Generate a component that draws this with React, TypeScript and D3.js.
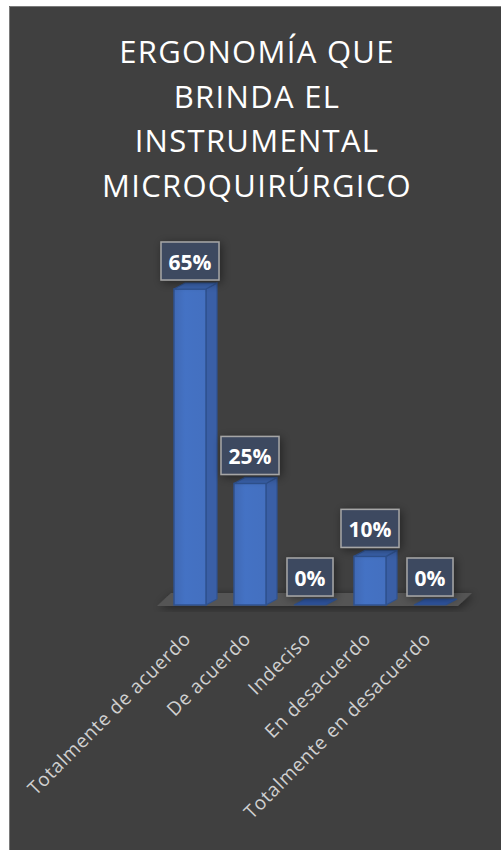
import * as d3 from "d3";
import React from "react";

const categories = [
  "Totalmente de acuerdo",
  "De acuerdo",
  "Indeciso",
  "En desacuerdo",
  "Totalmente en desacuerdo",
];
const values = [65, 25, 0, 10, 0];
const titleLines = ["ERGONOMÍA QUE", "BRINDA EL", "INSTRUMENTAL", "MICROQUIRÚRGICO"];

const W = 501;
const H = 850;
const BASE = 605;
const DX = 11;
const DY = 6;

const App: React.FC = (): React.ReactElement => {
  const x = d3.scaleBand<string>().domain(categories).range([160, 460]).paddingInner(28 / 60).paddingOuter(14 / 60);
  const y = d3.scaleLinear().domain([0, 65]).range([BASE, 289]);
  const bw = x.bandwidth();

  const line = d3.line<[number, number]>();
  const floor: [number, number][] = [
    [157, 606],
    [458, 606],
    [472, 593],
    [171, 593],
  ];

  return (
    <svg width={W} height={H} style={{ position: "absolute", left: 0, top: 0 }} fontFamily="'Open Sans', sans-serif">
      <defs>
        <filter id="sh" x="-40%" y="-40%" width="180%" height="180%">
          <feDropShadow dx="2" dy="2" stdDeviation="5" floodColor="#000" floodOpacity="0.45" />
        </filter>
        <linearGradient id="front" x1="0" x2="1" y1="0" y2="0">
          <stop offset="0" stopColor="#4069b4" />
          <stop offset="0.35" stopColor="#4472c4" />
          <stop offset="1" stopColor="#4470c0" />
        </linearGradient>
      </defs>
      <rect width={W} height={H} fill="#fff" />
      <rect x={9} y={6} width={W - 9} height={H - 6} fill="#404040" />
      <path d={`M9.5,${H}V6.5H${W}`} fill="none" stroke="#7a7a7a" />

      {titleLines.map((t, i) => (
        <text key={t} x={257} y={63 + i * 44.7} textAnchor="middle" fontSize={31} letterSpacing={1.3} fill="#fff">
          {t}
        </text>
      ))}

      <path d={line(floor) + "Z"} fill="#545454" filter="url(#sh)" />

      {categories.map((c, i) => {
        const x0 = x(c)!;
        const top = y(values[i]);
        const h = BASE - top;
        return (
          <g key={c}>
            {h > 0 && (
              <>
                <path
                  d={line([[x0 + bw, BASE], [x0 + bw + DX, BASE - DY], [x0 + bw + DX, top - DY], [x0 + bw, top]]) + "Z"}
                  fill="#3a5fa6"
                  stroke="#2f528f"
                  strokeWidth={1.2}
                />
                <rect x={x0} y={top} width={bw} height={h} fill="url(#front)" stroke="#2f528f" strokeWidth={1.5} />
              </>
            )}
            <path
              d={line([[x0, top], [x0 + bw, top], [x0 + bw + DX, top - DY], [x0 + DX, top - DY]]) + "Z"}
              fill={h > 0 ? "#3a62ab" : "#2f55a0"}
              stroke="#2f528f"
              strokeWidth={1.2}
            />
          </g>
        );
      })}

      {categories.map((c, i) => {
        const cx = x(c)! + bw / 2;
        const label = `${values[i]}%`;
        const bwid = 22 + 12 * label.length;
        const bh = 38;
        const by = y(values[i]) - DY - 3 - bh;
        return (
          <g key={c + "l"}>
            <rect x={cx - bwid / 2} y={by} width={bwid} height={bh} fill="#3e4960" stroke="#a6a6a6" strokeWidth={1.5} filter="url(#sh)" />
            <text x={cx} y={by + bh - 10.5} textAnchor="middle" fontSize={21} fontWeight={700} fill="#fff">
              {label}
            </text>
          </g>
        );
      })}

      {categories.map((c) => {
        const cx = x(c)! + bw / 2 + 2;
        return (
          <text key={c + "x"} transform={`translate(${cx},640) rotate(-45)`} textAnchor="end" fontSize={19} letterSpacing={0.7} fill="#d0d0d0">
            {c}
          </text>
        );
      })}
    </svg>
  );
};

export default App;
